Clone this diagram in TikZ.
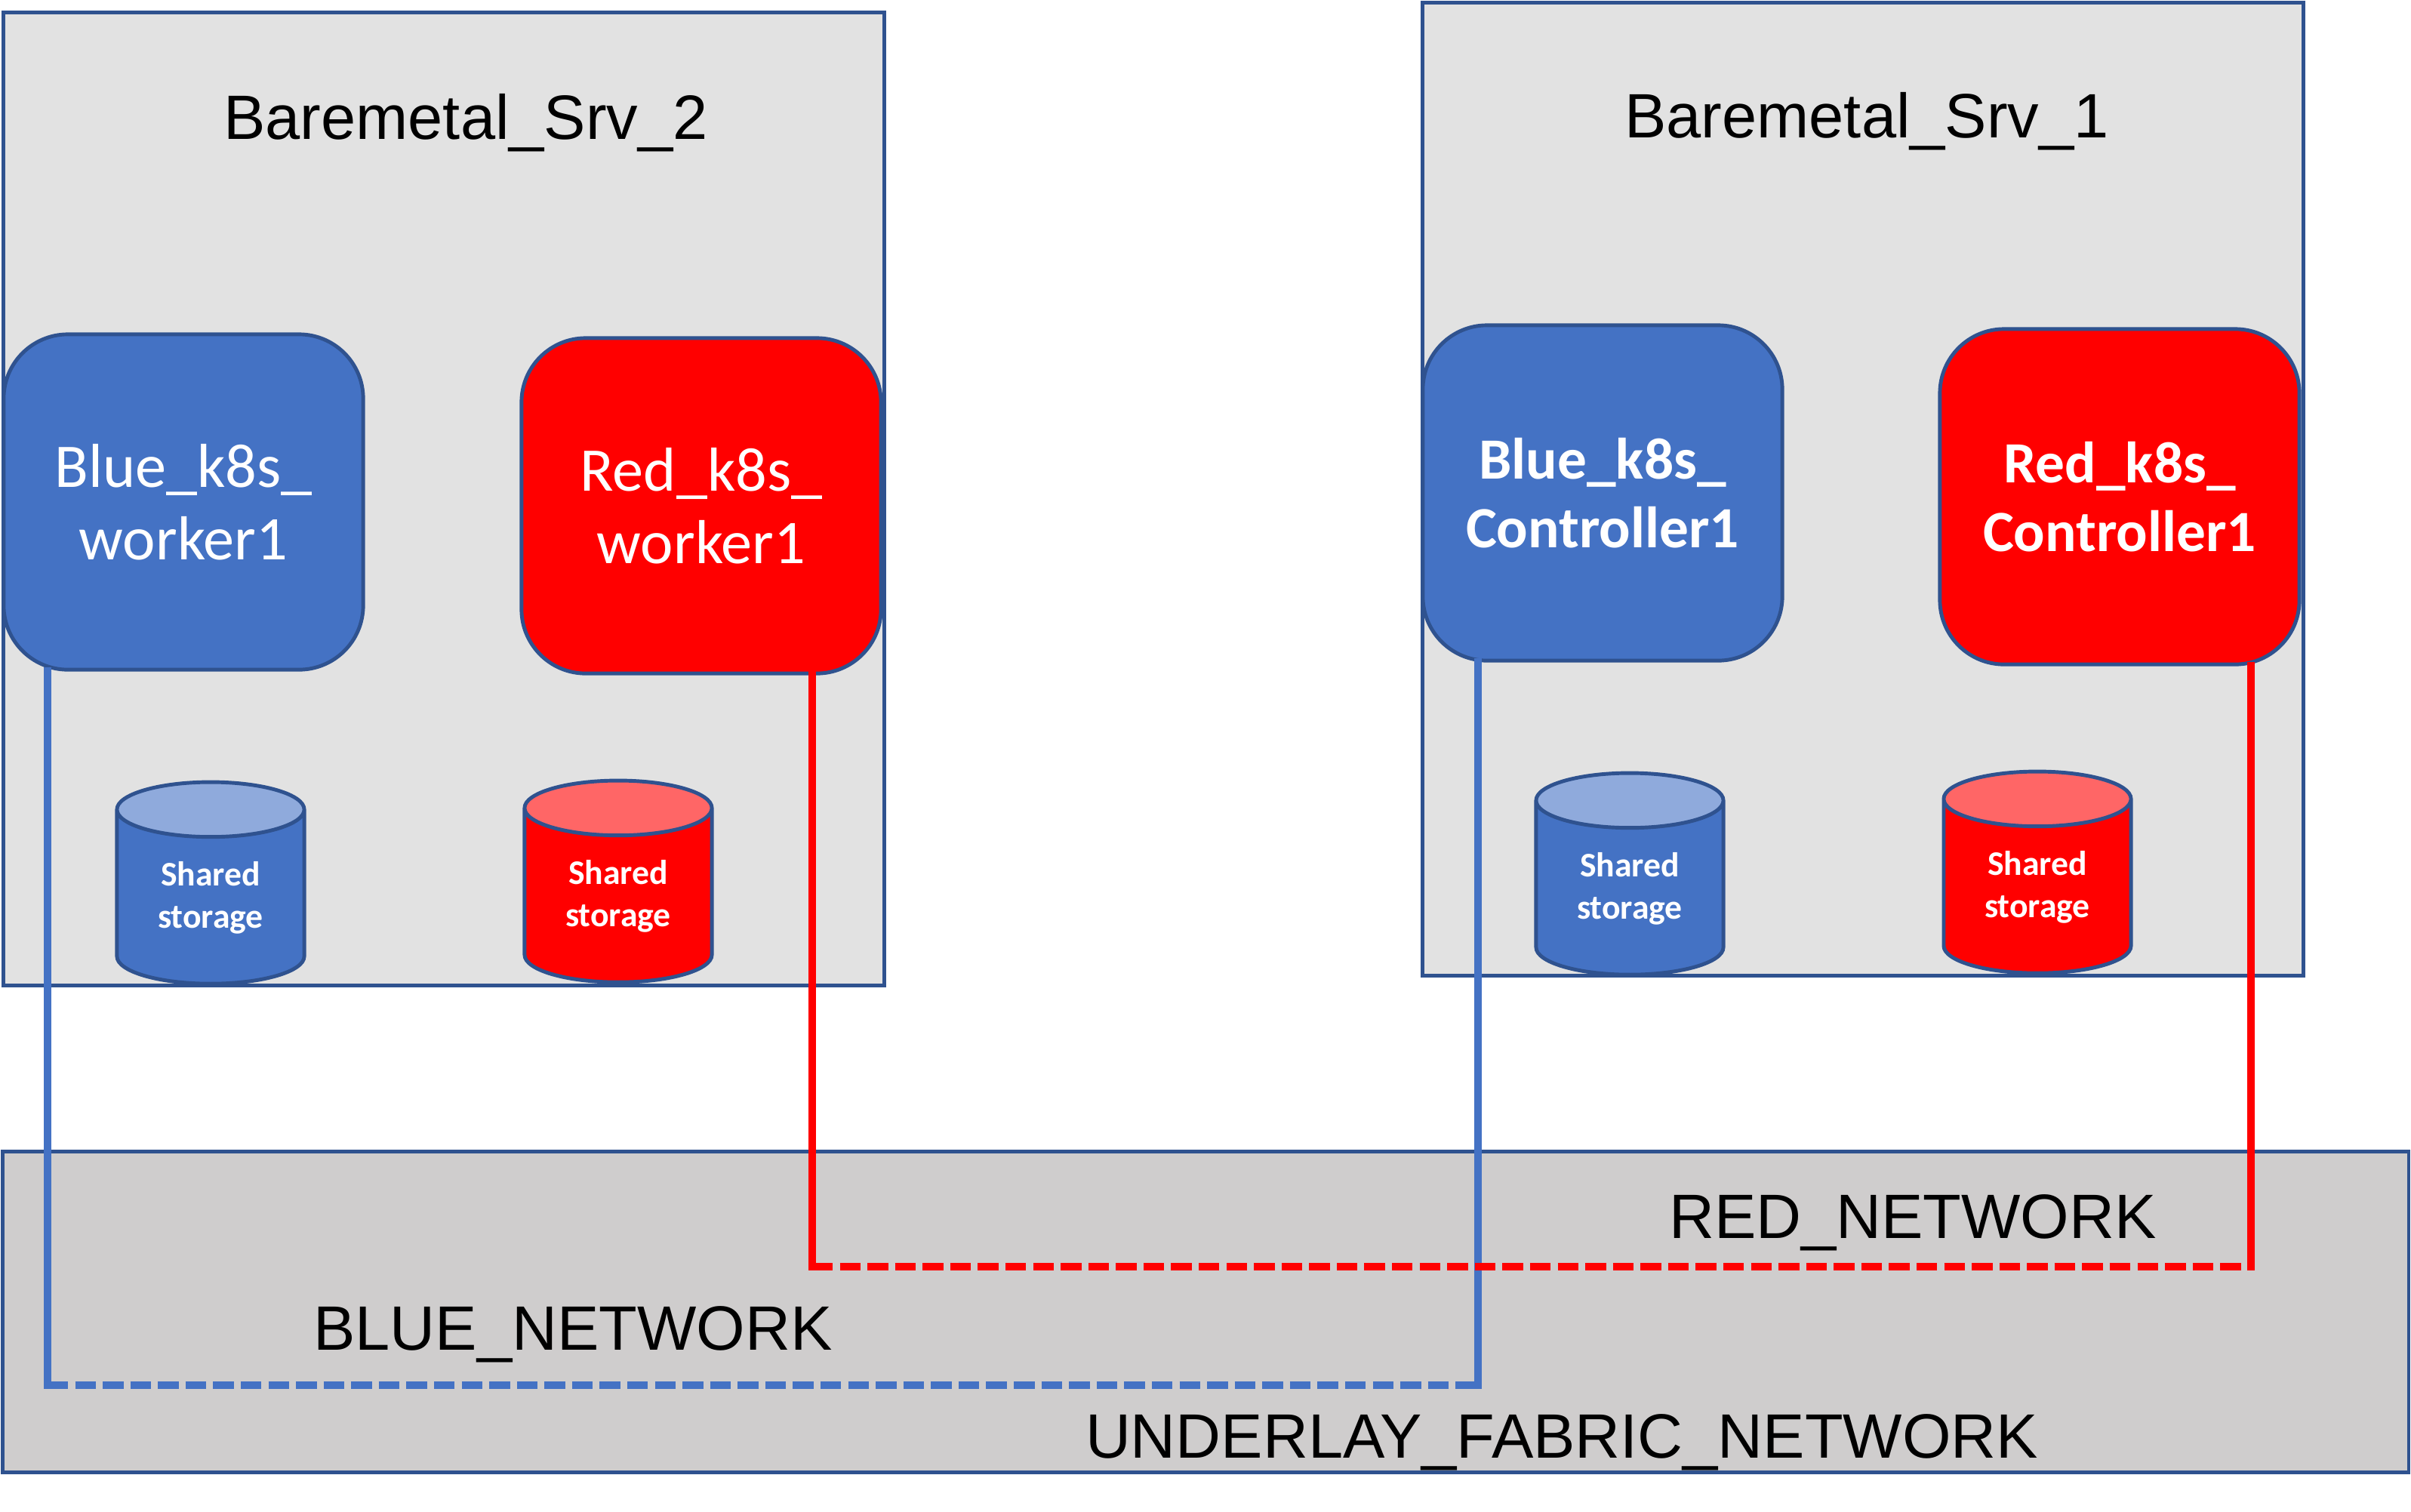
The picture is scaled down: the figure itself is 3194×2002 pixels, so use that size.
\documentclass[tikz,border=0pt]{standalone}
\usepackage{fontspec}
\setmainfont{Liberation Sans}
\newfontfamily\calibrifont{Carlito}
\usepackage{xcolor}
\usetikzlibrary{shapes.geometric}
\definecolor{nodeblue}{HTML}{4472C4}
\definecolor{edgeblue}{HTML}{2F528F}
\definecolor{topblue}{HTML}{8FAADC}
\definecolor{topred}{HTML}{FF6666}
\definecolor{srvgray}{HTML}{E2E2E2}
\definecolor{fabricgray}{HTML}{CFCDCD}

\begin{document}
\begin{tikzpicture}[
  x=0.01cm, y=-0.01cm,
  srv/.style={draw=edgeblue, line width=1.4pt, fill=srvgray, minimum width=11.66cm, minimum height=12.88cm, inner sep=0},
  fabric/.style={draw=edgeblue, line width=1.4pt, fill=fabricgray, minimum width=31.86cm, minimum height=4.24cm, inner sep=0},
  vm/.style={draw=edgeblue, line width=1.4pt, rounded corners=0.85cm, minimum width=4.76cm, minimum height=4.44cm,
             align=center, text=white, inner sep=0, font=\calibrifont\fontsize{23.4}{27.2}\selectfont},
  vmbold/.style={vm, font=\calibrifont\bfseries\fontsize{22}{26}\selectfont},
  disk/.style={cylinder, shape border rotate=90, aspect=0.52, draw=edgeblue, line width=1.4pt, cylinder uses custom fill,
               minimum width=2.48cm, minimum height=2.67cm, inner sep=0, align=center, text=white,
               font=\calibrifont\bfseries\fontsize{13}{16}\selectfont},
  title/.style={font=\fontsize{23.6}{28}\selectfont, text=black},
  bluelink/.style={nodeblue, line width=3pt},
  redlink/.style={red, line width=3pt},
  solidlink/.style={line cap=rect},
  dashlink/.style={dash pattern=on 7.8pt off 2.6pt}
]
\useasboundingbox (0,0) rectangle (3194,2002);
\node[srv] (srvB) at (588,661) {};
\node[srv] (srvA) at (2468,648) {};
\node[fabric] (fabric) at (3194/2,1738) {};
\node[title] (srvBname) at (617,163) {Baremetal\_Srv\_2};
\node[title] (srvAname) at (2473,161) {Baremetal\_Srv\_1};
\node[vm, fill=nodeblue] (blueW) at (243,665) {Blue\_k8s\_\\worker1};
\node[vm, fill=red] (redW) at (929,670) {Red\_k8s\_\\worker1};
\node[vmbold, fill=nodeblue] (blueC) at (2123,653) {Blue\_k8s\_\\Controller1};
\node[vmbold, fill=red] (redC) at (2808,658) {Red\_k8s\_\\Controller1};
\node[disk, cylinder body fill=nodeblue, cylinder end fill=topblue] (blueWdisk) at (279,1189) {Shared\\storage};
\node[disk, cylinder body fill=red, cylinder end fill=topred] (redWdisk) at (819,1187) {Shared\\storage};
\node[disk, cylinder body fill=nodeblue, cylinder end fill=topblue] (blueCdisk) at (2159,1177) {Shared\\storage};
\node[disk, cylinder body fill=red, cylinder end fill=topred] (redCdisk) at (2699,1175) {Shared\\storage};
\coordinate (blueL) at (63,1835);
\coordinate (blueR) at (1958,1835);
\coordinate (redL) at (1076,1678);
\coordinate (redR) at (2982,1678);
\draw[bluelink, solidlink] (blueL |- blueW.south) -- (blueL);
\draw[bluelink, dashlink] (blueL) -- (blueR);
\draw[bluelink, solidlink] (blueR) -- (blueR |- blueC.south);
\draw[redlink, solidlink] (redL |- redW.south) -- (redL);
\draw[redlink, dashlink] (redL) -- (redR);
\draw[redlink, solidlink] (redR) -- (redR |- redC.south);
\node[title] (redname) at (2534,1620) {RED\_NETWORK};
\node[title] (bluename) at (759,1768) {BLUE\_NETWORK};
\node[title] (fabricname) at (2069,1911) {UNDERLAY\_FABRIC\_NETWORK};
\end{tikzpicture}
\end{document}
